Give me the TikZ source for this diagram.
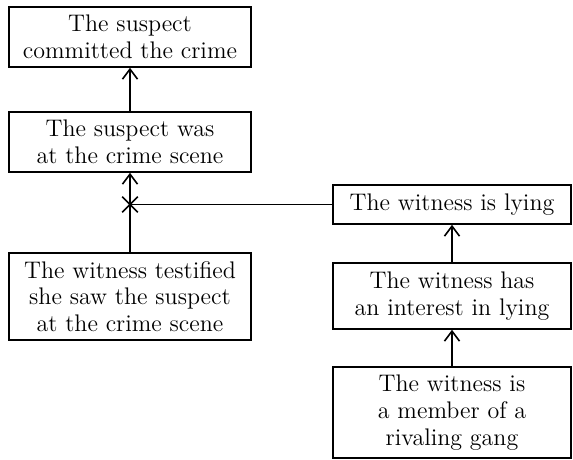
\documentclass[tikz,border=0pt]{standalone}
\usetikzlibrary{positioning,arrows.meta,shapes.misc}

\begin{document}
\begin{tikzpicture}[x=0.5pt, y=-0.5pt,
  claim/.style={draw, line width=0.8pt, minimum width=121pt, inner sep=0pt, align=center, font=\fontsize{12}{13.4}\selectfont},
  support/.style={-{Straight Barb[length=5pt,width=7.5pt]}, line width=0.8pt}]
\useasboundingbox (0,0) rectangle (573,460);
\node[claim, minimum height=30pt] (crime) at (130,37) {The suspect\\committed the crime};
\node[claim, minimum height=30pt] (scene) at (130,142) {The suspect was\\at the crime scene};
\node[claim, minimum height=43.5pt] (testimony) at (130,296.5) {The witness testified\\she saw the suspect\\at the crime scene};
\node[claim, minimum width=119pt, minimum height=19.5pt] (lying) at (452,204.5) {The witness is lying};
\node[claim, minimum width=119pt, minimum height=33pt] (interest) at (452,296) {The witness has\\an interest in lying};
\node[claim, minimum width=119pt, minimum height=45.5pt] (gang) at (452,412.5) {The witness is\\a member of a\\rivaling gang};
\draw[support] (scene) -- (crime);
\draw[support] (testimony) -- (scene);
\draw[support] (interest) -- (lying);
\draw[support] (gang) -- (interest);
% undercutter hits the inference
\coordinate (undercut) at (scene.south |- lying.west);
\draw[line width=0.8pt] (lying.west) -- (undercut);
\node[cross out, draw, line width=0.8pt, minimum size=7pt, inner sep=0pt] (cross) at (undercut) {};
\end{tikzpicture}
\end{document}
